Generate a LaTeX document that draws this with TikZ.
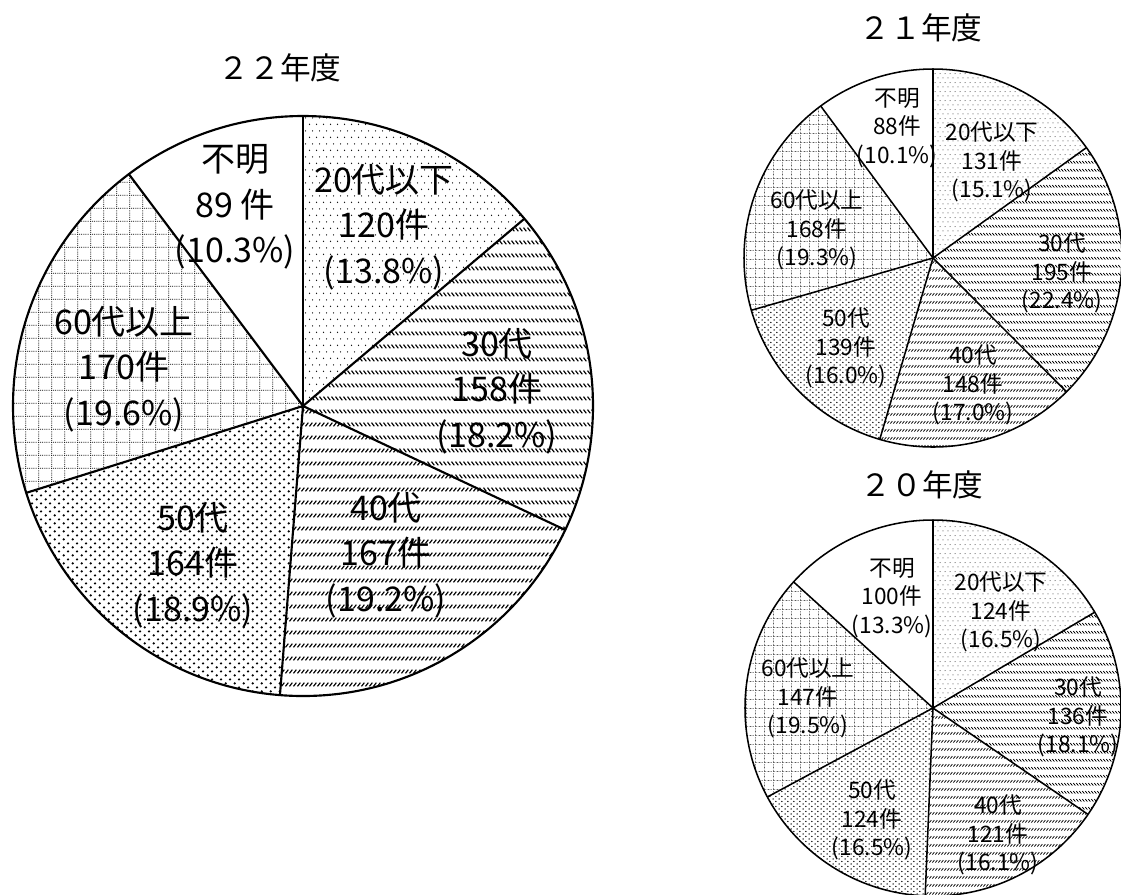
\documentclass[tikz,border=0pt]{standalone}
\usepackage{fontspec}
\newfontfamily\jp{Noto Sans CJK JP}
\usetikzlibrary{patterns.meta}

\newcommand\mkpats[2]{%
\tikzdeclarepattern{name=sdots#1,type=uncolored,
  bottom left={(0pt,0pt)},top right={(5.25pt,10.05pt)},tile size={(5.25pt,10.05pt)},
  tile transformation={scale=#2},
  code={\fill (1.3pt,1.3pt) circle[radius=0.55pt]; \fill (3.925pt,6.325pt) circle[radius=0.55pt];}}%
\tikzdeclarepattern{name=ddots#1,type=uncolored,
  bottom left={(0pt,0pt)},top right={(6.6pt,6.3pt)},tile size={(6.6pt,6.3pt)},
  tile transformation={scale=#2},
  code={\fill (1.3pt,1.3pt) circle[radius=0.95pt]; \fill (4.6pt,4.45pt) circle[radius=0.95pt];}}%
\tikzdeclarepattern{name=bsl#1,type=uncolored,
  bottom left={(0pt,0pt)},top right={(3.3pt,9.75pt)},tile size={(3.3pt,9.75pt)},
  tile transformation={scale=#2},
  code={\draw[line width=0.95pt] (0.45pt,3.5pt) -- (2.85pt,0.55pt);}}%
\tikzdeclarepattern{name=fsl#1,type=uncolored,
  bottom left={(0pt,0pt)},top right={(3.3pt,9.75pt)},tile size={(3.3pt,9.75pt)},
  tile transformation={scale=#2},
  code={\draw[line width=0.95pt] (0.45pt,0.55pt) -- (2.85pt,3.5pt);}}%
\tikzdeclarepattern{name=dgrid#1,type=uncolored,
  bottom left={(0pt,0pt)},top right={(10pt,10pt)},tile size={(10pt,10pt)},
  tile transformation={scale=#2},
  code={\draw[line width=0.6pt,dash pattern=on 0.7pt off 0.9667pt] (0pt,0.5pt) -- (10pt,0.5pt);
        \draw[line width=0.6pt,dash pattern=on 0.7pt off 0.9667pt] (0.5pt,0pt) -- (0.5pt,10pt);}}%
}
\mkpats{L}{1}
\mkpats{S}{0.65}

\newcommand\slice[5]{\fill[pattern=#5] (#1) -- ++(#3:#2) arc[start angle=#3, end angle=#4, radius=#2] -- cycle;}

\begin{document}
\begin{tikzpicture}[x=0.75pt,y=-0.75pt,
  pieL/.style={line width=1.6pt,black},
  pieS/.style={line width=1.15pt,black},
  lblL/.style={align=center,inner sep=0pt,font=\jp\fontsize{25.5}{34}\selectfont},
  lblS/.style={align=center,inner sep=0pt,font=\jp\fontsize{17}{21.5}\selectfont},
  ttl/.style={inner sep=0pt,font=\jp\fontsize{23}{27}\selectfont}]
\useasboundingbox (0,0) rectangle (1121,894);
\fill[white] (0,0) rectangle (1121,894);

% ---------- 22 ----------
\coordinate (c22) at (303,406);
\slice{c22}{290}{-90}{-40.23}{sdotsL}
\slice{c22}{290}{-40.23}{25.30}{bslL}
\slice{c22}{290}{25.30}{94.56}{fslL}
\slice{c22}{290}{94.56}{162.58}{ddotsL}
\slice{c22}{290}{162.58}{233.09}{dgridL}
\foreach \t in {-90,-40.23,25.30,94.56,162.58,233.09} \draw[pieL] (c22) -- ++(\t:290);
\draw[pieL] (c22) circle[radius=290];
\node[ttl] (t22) at (280,68) {２２年度};
\node[lblL] (a22) at (235,207) {不明\\89 件\\(10.3\%)};
\node[lblL] (b22) at (384,227) {20代以下\\120件\\(13.8\%)};
\node[lblL] (d22) at (497,391) {30代\\158件\\(18.2\%)};
\node[lblL] (e22) at (386,555) {40代\\167件\\(19.2\%)};
\node[lblL] (f22) at (193,565) {50代\\164件\\(18.9\%)};
\node[lblL] (g22) at (124,369) {60代以上\\170件\\(19.6\%)};

% ---------- 21 ----------
\coordinate (c21) at (933,258);
\slice{c21}{189}{-90}{-35.73}{sdotsS}
\slice{c21}{189}{-35.73}{45.05}{bslS}
\slice{c21}{189}{45.05}{106.36}{fslS}
\slice{c21}{189}{106.36}{163.95}{ddotsS}
\slice{c21}{189}{163.95}{233.54}{dgridS}
\foreach \t in {-90,-35.73,45.05,106.36,163.95,233.54} \draw[pieS] (c21) -- ++(\t:189);
\draw[pieS] (c21) circle[radius=189];
\node[ttl] (t21) at (921,28) {２１年度};
\node[lblS] (a21) at (897,128) {不明\\88件\\(10.1\%)};
\node[lblS] (b21) at (992,162) {20代以下\\131件\\(15.1\%)};
\node[lblS] (d21) at (1062,273) {30代\\195件\\(22.4\%)};
\node[lblS] (e21) at (973,385) {40代\\148件\\(17.0\%)};
\node[lblS] (f21) at (846,348) {50代\\139件\\(16.0\%)};
\node[lblS] (g21) at (817,230) {60代以上\\168件\\(19.3\%)};

% ---------- 20 ----------
\coordinate (c20) at (933,708);
\slice{c20}{188}{-90}{-30.64}{sdotsS}
\slice{c20}{188}{-30.64}{34.47}{bslS}
\slice{c20}{188}{34.47}{92.39}{fslS}
\slice{c20}{188}{92.39}{151.76}{ddotsS}
\slice{c20}{188}{151.76}{222.13}{dgridS}
\foreach \t in {-90,-30.64,34.47,92.39,151.76,222.13} \draw[pieS] (c20) -- ++(\t:188);
\draw[pieS] (c20) circle[radius=188];
\node[ttl] (t20) at (922,485) {２０年度};
\node[lblS] (a20) at (892,598) {不明\\100件\\(13.3\%)};
\node[lblS] (b20) at (1001,612) {20代以下\\124件\\(16.5\%)};
\node[lblS] (d20) at (1078,717) {30代\\136件\\(18.1\%)};
\node[lblS] (e20) at (998,835) {40代\\121件\\(16.1\%)};
\node[lblS] (f20) at (872,820) {50代\\124件\\(16.5\%)};
\node[lblS] (g20) at (808,698) {60代以上\\147件\\(19.5\%)};
\end{tikzpicture}
\end{document}
